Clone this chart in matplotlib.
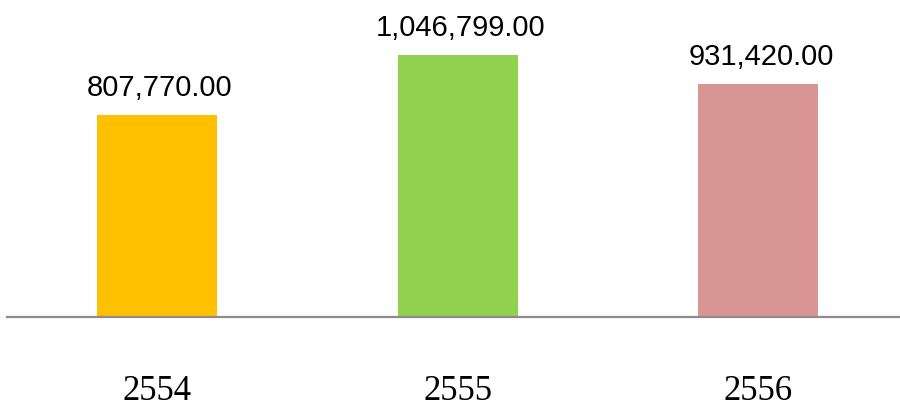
import matplotlib

matplotlib.use("Agg")
import matplotlib.pyplot as plt

years = ["2554", "2555", "2556"]
values = [807770.00, 1046799.00, 931420.00]
colors = ["#FFC000", "#92D050", "#D99594"]

fig = plt.figure(figsize=(9, 4.07), dpi=100)
ax = fig.add_axes([7 / 900, 1 - 317 / 407, 1 - 7 / 900, 317 / 407])

positions = list(range(len(years)))
bars = ax.bar(positions, values, width=0.4, color=colors, zorder=2)

for bar, value in zip(bars, values):
    ax.annotate(
        f"{value:,.2f}",
        xy=(bar.get_x() + bar.get_width() / 2, bar.get_height()),
        xytext=(2, 14),
        textcoords="offset points",
        ha="center",
        va="baseline",
        fontsize=21,
        family="Liberation Sans",
        color="#000000",
    )

ax.set_xlim(-0.5, 2.472)
ax.set_ylim(0, 1267500)
ax.set_xticks(positions)
ax.set_xticklabels(years, family="Liberation Serif", fontsize=25)
ax.tick_params(axis="x", length=0, pad=42)
ax.set_yticks([])

for side in ["top", "right", "left"]:
    ax.spines[side].set_visible(False)
ax.spines["bottom"].set_color("#8c8c8c")
ax.spines["bottom"].set_linewidth(1.6)
ax.patch.set_alpha(0)

fig.savefig("out.png", dpi=100)
